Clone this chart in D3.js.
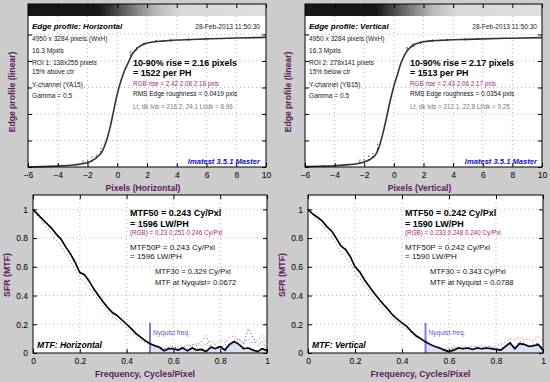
<!DOCTYPE html>
<html><head><meta charset="utf-8">
<script src="https://cdn.jsdelivr.net/npm/d3@7"></script>
<style>html,body{margin:0;padding:0;background:#cccccc;} svg{display:block;font-family:"Liberation Sans",Arial,Helvetica,sans-serif;}</style>
</head><body><svg id="c" width="550" height="382"></svg>
<script>
// ---------- DATA ----------
const edgeX = [-6,-5,-4,-3,-2.5,-2,-1.5,-1.25,-1,-0.75,-0.5,-0.25,0,0.25,0.5,0.75,1,1.25,1.5,2,2.5,3,4,5,6,8,10];
const edgeH = [0.0,0.003,0.008,0.015,0.022,0.032,0.062,0.085,0.12,0.19,0.29,0.42,0.55,0.65,0.73,0.79,0.85,0.885,0.91,0.935,0.945,0.95,0.958,0.962,0.967,0.973,0.978];
const edgeV = [0.003,0.006,0.01,0.018,0.025,0.037,0.065,0.09,0.15,0.25,0.37,0.5,0.61,0.7,0.79,0.85,0.89,0.915,0.93,0.945,0.952,0.955,0.96,0.963,0.967,0.972,0.976];
const edgeDotX = [-2.3,-2.0,-1.7,-1.4,-1.1,0.9,1.3,1.8,2.6,3.6,4.8];
const edgeDotRedH = [0.045,0.05,0.075,0.09,0.14,0.87,0.9,0.935,0.955,0.962,0.965];
const edgeDotGreenH = [0.03,0.038,0.05,0.07,0.1,0.855,0.895,0.93,0.945,0.952,0.958];
const edgeDotBlueH = [0.028,0.035,0.045,0.075,0.115,0.84,0.885,0.925,0.948,0.955,0.96];
const edgeDotRedV = [0.05,0.055,0.08,0.1,0.17,0.9,0.925,0.945,0.958,0.962,0.966];
const edgeDotGreenV = [0.035,0.042,0.055,0.08,0.13,0.895,0.92,0.94,0.95,0.956,0.96];
const edgeDotBlueV = [0.03,0.04,0.05,0.075,0.14,0.88,0.91,0.935,0.952,0.957,0.962];
const stripX = [-6,-1.2,-0.5,1,2.6,4.4,10];
const stripGray = [22,24,52,120,185,218,222];
const edgeTicks = [-6,-4,-2,0,2,4,6,8,10];
const edgeYTicks = [0.2,0.4,0.6,0.8,1.0];

const freq = [0,0.02,0.04,0.06,0.08,0.1,0.12,0.14,0.16,0.18,0.2,0.22,0.24,0.26,0.28,0.3,0.32,0.34,0.36,0.38,0.4,0.42,0.44,0.46,0.48,0.5,0.52,0.54,0.56,0.58,0.6,0.62,0.64,0.66,0.68,0.7,0.72,0.74,0.76,0.78,0.8,0.82,0.84,0.86,0.88,0.9,0.92,0.94,0.96,0.98,1.0];
const mtfH = [1.0,0.965,0.932,0.9,0.868,0.826,0.792,0.737,0.69,0.63,0.56,0.545,0.5,0.445,0.4,0.355,0.315,0.28,0.26,0.23,0.2,0.17,0.135,0.11,0.085,0.065,0.05,0.04,0.015,0.03,0.03,0.02,0.035,0.015,0.035,0.02,0.025,0.01,0.04,0.03,0.045,0.02,0.06,0.08,0.06,0.03,0.035,0.02,0.01,0.03,0.015];
const mtfRedH = [1.0,0.955,0.915,0.87,0.83,0.785,0.745,0.69,0.635,0.58,0.52,0.49,0.455,0.41,0.37,0.33,0.29,0.255,0.235,0.205,0.175,0.145,0.115,0.09,0.07,0.06,0.05,0.045,0.03,0.04,0.035,0.05,0.03,0.06,0.045,0.07,0.05,0.06,0.085,0.065,0.09,0.07,0.11,0.12,0.09,0.075,0.1,0.065,0.09,0.12,0.06];
const mtfGreenH = [1.0,0.967,0.935,0.905,0.872,0.83,0.797,0.742,0.695,0.64,0.565,0.55,0.505,0.45,0.405,0.36,0.32,0.285,0.265,0.235,0.205,0.175,0.14,0.115,0.09,0.07,0.055,0.04,0.02,0.035,0.03,0.025,0.04,0.02,0.04,0.03,0.03,0.02,0.045,0.035,0.05,0.03,0.065,0.085,0.065,0.04,0.04,0.03,0.02,0.035,0.02];
const mtfBlueH = [1.0,0.965,0.933,0.9,0.87,0.83,0.795,0.74,0.69,0.645,0.565,0.548,0.505,0.45,0.405,0.36,0.32,0.285,0.262,0.232,0.202,0.172,0.138,0.112,0.088,0.07,0.055,0.04,0.02,0.04,0.045,0.03,0.05,0.03,0.06,0.05,0.08,0.12,0.04,0.06,0.03,0.06,0.05,0.07,0.1,0.06,0.17,0.11,0.05,0.08,0.02];
const mtfV = [1.0,0.968,0.945,0.92,0.88,0.85,0.8,0.745,0.72,0.67,0.6,0.565,0.51,0.465,0.42,0.38,0.34,0.305,0.265,0.235,0.21,0.185,0.15,0.12,0.1,0.078,0.06,0.045,0.035,0.02,0.01,0.02,0.035,0.03,0.035,0.025,0.035,0.03,0.035,0.03,0.025,0.02,0.045,0.07,0.03,0.065,0.06,0.045,0.05,0.06,0.02];
const mtfRedV = [1.0,0.96,0.925,0.89,0.845,0.81,0.76,0.7,0.67,0.62,0.56,0.52,0.47,0.43,0.385,0.345,0.31,0.275,0.24,0.21,0.19,0.165,0.135,0.11,0.09,0.07,0.055,0.045,0.035,0.03,0.03,0.04,0.04,0.05,0.035,0.05,0.04,0.05,0.045,0.04,0.05,0.06,0.08,0.1,0.09,0.11,0.09,0.1,0.08,0.12,0.08];
const mtfGreenV = [1.0,0.97,0.948,0.924,0.885,0.855,0.805,0.75,0.725,0.675,0.605,0.57,0.515,0.47,0.425,0.385,0.345,0.31,0.27,0.24,0.215,0.19,0.155,0.125,0.105,0.08,0.062,0.047,0.035,0.025,0.015,0.03,0.04,0.025,0.04,0.03,0.04,0.025,0.03,0.035,0.03,0.025,0.05,0.065,0.04,0.07,0.055,0.05,0.045,0.055,0.03];
const mtfBlueV = [1.0,0.968,0.945,0.92,0.88,0.85,0.8,0.745,0.72,0.67,0.6,0.565,0.51,0.465,0.42,0.38,0.34,0.305,0.265,0.235,0.21,0.185,0.15,0.12,0.1,0.078,0.06,0.045,0.035,0.02,0.02,0.03,0.04,0.035,0.04,0.03,0.045,0.035,0.04,0.045,0.03,0.025,0.06,0.075,0.04,0.08,0.07,0.05,0.06,0.07,0.03];
const mtfTicks = [0,0.2,0.4,0.6,0.8,1];
const mtfYTicks = [0,0.2,0.4,0.6,0.8,1];
const nyquist = 0.5;

const edgeTextH = {
  title: "Edge profile: Horizontal", date: "28-Feb-2013 11:50:30",
  info: ["4950 x 3284 pixels (WxH)","16.3 Mpxls","ROI 1: 138x255 pixels","15% above ctr","Y-channel  (YA15)","Gamma = 0.5"],
  rise1: "10-90% rise = 2.16 pixels", rise2: "= 1522 per PH",
  rgb: "RGB rise = 2.42  2.08  2.18 pxls", rms: "RMS Edge roughness = 0.0419 pxls",
  lvls: "Lt, dk lvls = 216.2, 24.1     Lt/dk = 8.96", xlabel: "Pixels (Horizontal)"
};
const edgeTextV = {
  title: "Edge profile: Vertical", date: "28-Feb-2013 11:50:30",
  info: ["4950 x 3284 pixels (WxH)","16.3 Mpxls","ROI 2: 278x141 pixels","15% below ctr","Y-channel  (YB15)","Gamma = 0.5"],
  rise1: "10-90% rise = 2.17 pixels", rise2: "= 1513 per PH",
  rgb: "RGB rise = 2.43  2.06  2.17 pxls", rms: "RMS Edge roughness = 0.0354 pxls",
  lvls: "Lt, dk lvls = 212.1, 22.8     Lt/dk = 9.25", xlabel: "Pixels (Vertical)"
};
const mtfTextH = {
  m1: "MTF50 = 0.243 Cy/Pxl", m2: "= 1596 LW/PH", rgb: "(RGB) = 0.23  0.251  0.246 Cy/Pxl",
  p1: "MTF50P = 0.243 Cy/Pxl", p2: "= 1596 LW/PH", t1: "MTF30 = 0.329 Cy/Pxl", t2: "MTF at Nyquist= 0.0672",
  name: "MTF: Horizontal"
};
const mtfTextV = {
  m1: "MTF50 = 0.242 Cy/Pxl", m2: "= 1590 LW/PH", rgb: "(RGB) = 0.233  0.248  0.240 Cy/Pxl",
  p1: "MTF50P = 0.242 Cy/Pxl", p2: "= 1590 LW/PH", t1: "MTF30 = 0.343 Cy/Pxl", t2: "MTF at Nyquist = 0.0788",
  name: "MTF: Vertical"
};

// ---------- DRAW ----------
const svg = d3.select('#c');
svg.append('rect').attr('width',550).attr('height',382).attr('fill','#cccccc');
const defs = svg.append('defs');
const LABEL = '#5e1a5e';

function txt(g, x, y, s, size, o = {}) {
  return g.append('text').attr('x', x).attr('y', y).text(s)
    .attr('font-size', size)
    .attr('font-weight', o.bold ? 'bold' : 'normal')
    .attr('font-style', o.italic ? 'italic' : 'normal')
    .attr('fill', o.fill || '#000')
    .attr('text-anchor', o.anchor || 'start');
}

function frameAxes(g, x, y, xt, yt, labels, pad) {
  const [x0, x1] = x.range(), [yb, yt0] = y.range();
  const ax = g.append('g').attr('transform', `translate(0,${yb})`)
    .call(d3.axisBottom(x).tickValues(xt).tickSize(-4).tickPadding(pad).tickFormat(d3.format('')));
  ax.select('.domain').remove();
  ax.selectAll('text').attr('font-size', 8.5).attr('font-family', null).attr('fill', '#000');
  const at = g.append('g').attr('transform', `translate(0,${yt0})`)
    .call(d3.axisTop(x).tickValues(xt).tickSize(-4).tickFormat(''));
  at.select('.domain').remove();
  const al = g.append('g').attr('transform', `translate(${x0},0)`)
    .call(d3.axisLeft(y).tickValues(yt).tickSize(-4).tickPadding(5).tickFormat(labels ? d3.format('') : ''));
  al.select('.domain').remove();
  al.selectAll('text').attr('font-size', 8.5).attr('font-family', null).attr('fill', '#000');
  const ar = g.append('g').attr('transform', `translate(${x1},0)`)
    .call(d3.axisRight(y).tickValues(yt).tickSize(-4).tickFormat(''));
  ar.select('.domain').remove();
  g.append('rect').attr('x', x0).attr('y', yt0).attr('width', x1 - x0).attr('height', yb - yt0)
    .attr('fill', 'none').attr('stroke', '#000').attr('stroke-width', 1);
}

function edgePanel(id, left, right, vals, dots, T, ylabX) {
  const x = d3.scaleLinear().domain([-6, 10]).range([left, right]);
  const y = d3.scaleLinear().domain([0, 1.23]).range([167, 4]);
  const g = svg.append('g');
  g.append('rect').attr('x', left).attr('y', 4).attr('width', right - left).attr('height', 163).attr('fill', '#fff');
  const gr = defs.append('linearGradient').attr('id', 'grad' + id);
  stripX.forEach((v, i) => gr.append('stop').attr('offset', (v + 6) / 16)
    .attr('stop-color', d3.rgb(stripGray[i], stripGray[i], stripGray[i])));
  g.append('rect').attr('x', left).attr('y', 4).attr('width', right - left).attr('height', 12)
    .attr('fill', `url(#grad${id})`);
  // grid
  g.selectAll('.vg').data(edgeTicks.slice(1, -1)).join('line')
    .attr('x1', d => x(d)).attr('x2', d => x(d)).attr('y1', 16).attr('y2', y(0))
    .attr('stroke', '#9a9a9a').attr('stroke-width', 0.7).attr('stroke-dasharray', '1,3');
  g.selectAll('.hg').data(edgeYTicks).join('line')
    .attr('x1', left).attr('x2', right).attr('y1', d => y(d)).attr('y2', d => y(d))
    .attr('stroke', '#9a9a9a').attr('stroke-width', 0.7).attr('stroke-dasharray', '1,3');
  // colored samples
  const cols = ['#ff3030', '#20b020', '#3030ff'];
  dots.forEach((arr, k) => {
    g.selectAll('.d' + k).data(arr).join('circle')
      .attr('cx', (d, i) => x(edgeDotX[i])).attr('cy', d => y(d)).attr('r', 0.8).attr('fill', cols[k]);
  });
  // curve
  const line = d3.line().x((d, i) => x(edgeX[i])).y(d => y(d)).curve(d3.curveMonotoneX);
  g.append('path').attr('d', line(vals)).attr('fill', 'none').attr('stroke', '#333').attr('stroke-width', 1.6);
  // texts
  txt(g, left + 4, 28.5, T.title, 8, {bold: true, italic: true});
  txt(g, left + 232, 28.5, T.date, 6.6, {anchor: 'end', fill: '#222'});
  const infoY = [41.3, 53.3, 65.3, 73.5, 87.3, 97.5];
  T.info.forEach((s, i) => txt(g, left + 4, infoY[i], s, 6.6, {fill: '#222'}));
  txt(g, left + 105, 65.8, T.rise1, 8.9, {bold: true});
  txt(g, left + 105, 76, T.rise2, 8.9, {bold: true});
  txt(g, left + 105, 85.6, T.rgb, 6.3, {fill: '#a8287a'});
  txt(g, left + 105, 95.6, T.rms, 6.5, {fill: '#111'});
  txt(g, left + 105, 109.4, T.lvls, 6.3, {fill: '#777'});
  txt(g, left + 232, 163.6, 'Imatest 3.5.1 Master', 7.6, {bold: true, italic: true, anchor: 'end', fill: '#1010d0'});
  frameAxes(g, x, y, edgeTicks, [0, 0.2, 0.4, 0.6, 0.8, 1.0], false, 5);
  txt(g, (left + right) / 2 - 4, 191, T.xlabel, 8.6, {bold: true, anchor: 'middle', fill: LABEL});
  txt(g, 0, 0, 'Edge profile (linear)', 8.6, {bold: true, anchor: 'middle', fill: LABEL})
    .attr('transform', `translate(${ylabX},92) rotate(-90)`);
}

function mtfPanel(id, left, right, vals, chans, T, ylabX) {
  const x = d3.scaleLinear().domain([0, 1]).range([left, right]);
  const y = d3.scaleLinear().domain([0, 1.1]).range([353, 195]);
  const g = svg.append('g');
  g.append('rect').attr('x', left).attr('y', 195).attr('width', right - left).attr('height', 158).attr('fill', '#fff');
  g.selectAll('.vg').data(mtfTicks.slice(1, -1)).join('line')
    .attr('x1', d => x(d)).attr('x2', d => x(d)).attr('y1', y(1.1)).attr('y2', y(0))
    .attr('stroke', '#9a9a9a').attr('stroke-width', 0.7).attr('stroke-dasharray', '1,3');
  g.selectAll('.hg').data(mtfYTicks.slice(1)).join('line')
    .attr('x1', left).attr('x2', right).attr('y1', d => y(d)).attr('y2', d => y(d))
    .attr('stroke', '#9a9a9a').attr('stroke-width', 0.7).attr('stroke-dasharray', '1,3');
  // nyquist fill
  const pts = freq.map((f, i) => [f, vals[i]]).filter(p => p[0] >= nyquist);
  g.append('path').attr('d', d3.area().x(p => x(p[0])).y0(y(0)).y1(p => y(p[1]))(pts))
    .attr('fill', '#dedef7');
  g.append('line').attr('x1', x(nyquist)).attr('x2', x(nyquist)).attr('y1', y(0)).attr('y2', y(0.21))
    .attr('stroke', '#7a7ae0').attr('stroke-width', 2);
  txt(g, x(nyquist) + 3, 335.4, 'Nyquist freq.', 6.6, {fill: '#5a5ad0'});
  // channels
  const cols = ['#ff3b3b', '#22b022', '#3a3aff'];
  const line = d3.line().x((d, i) => x(freq[i])).y(d => y(d));
  chans.forEach((arr, k) => {
    g.append('path').attr('d', line(arr)).attr('fill', 'none').attr('stroke', cols[k])
      .attr('stroke-width', 1).attr('stroke-dasharray', '1,2.5').attr('stroke-dashoffset', k);
  });
  g.append('path').attr('d', line(vals)).attr('fill', 'none').attr('stroke', '#000').attr('stroke-width', 1.6);
  // texts
  txt(g, left + 97, 216, T.m1, 9, {bold: true});
  txt(g, left + 97, 226.5, T.m2, 9, {bold: true});
  txt(g, left + 97, 235.2, T.rgb, 6.3, {fill: '#a8287a'});
  txt(g, left + 97, 249.6, T.p1, 8, {fill: '#111'});
  txt(g, left + 97, 259, T.p2, 8, {fill: '#111'});
  txt(g, left + 122, 273.8, T.t1, 7.6, {fill: '#111'});
  txt(g, left + 122, 284.5, T.t2, 7.6, {fill: '#111'});
  txt(g, left + 4, 348.2, T.name, 8.6, {bold: true, italic: true});
  frameAxes(g, x, y, mtfTicks, mtfYTicks, true, 5);
  txt(g, (left + right) / 2 - 5, 377, 'Frequency, Cycles/Pixel', 8.8, {bold: true, anchor: 'middle', fill: LABEL});
  txt(g, 0, 0, 'SFR (MTF)', 8.8, {bold: true, anchor: 'middle', fill: LABEL})
    .attr('transform', `translate(${ylabX},275) rotate(-90)`);
}

edgePanel('H', 28, 266, edgeH, [edgeDotRedH, edgeDotGreenH, edgeDotBlueH], edgeTextH, 15);
edgePanel('V', 305, 542, edgeV, [edgeDotRedV, edgeDotGreenV, edgeDotBlueV], edgeTextV, 291);
mtfPanel('H', 33, 267, mtfH, [mtfRedH, mtfGreenH, mtfBlueH], mtfTextH, 10);
mtfPanel('V', 308, 543, mtfV, [mtfRedV, mtfGreenV, mtfBlueV], mtfTextV, 285);
</script></body></html>
